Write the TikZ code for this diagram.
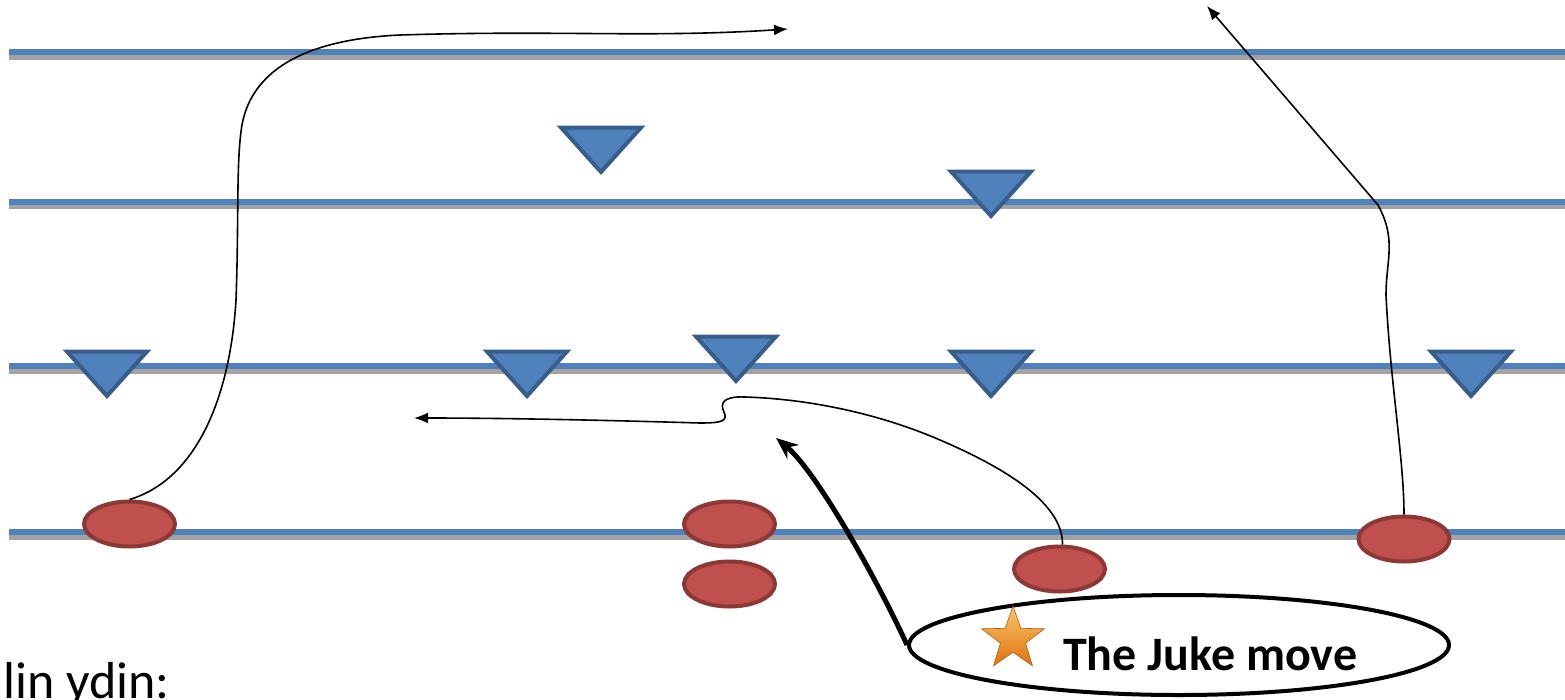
\documentclass[tikz,border=0pt]{standalone}
\usepackage{fontspec}
\setmainfont{Carlito}
\usetikzlibrary{shapes.geometric,arrows.meta}
\definecolor{fieldblue}{HTML}{4F81BD}
\definecolor{fieldgray}{HTML}{A3A3A3}
\definecolor{defedge}{HTML}{385D8A}
\definecolor{playerfill}{HTML}{C0504D}
\definecolor{playeredge}{HTML}{8C3836}
\definecolor{starlight}{HTML}{FCC466}
\definecolor{stardark}{HTML}{DD7414}
\begin{document}
\begin{tikzpicture}[x=1pt,y=-1pt,
  yardline/.style={line width=6, fieldblue},
  yardshadow/.style={line width=5, fieldgray},
  defender/.style={fill=fieldblue, draw=defedge, line width=4, line join=miter},
  player/.style={ellipse, fill=playerfill, draw=playeredge, line width=4,
    minimum width=91, minimum height=45, inner sep=0},
  callout/.style={ellipse, draw=black, line width=4, fill=white,
    minimum width=540, minimum height=100, inner sep=0},
  route/.style={line width=1.6, -{Latex[length=14,width=11]}},
  jukearrow/.style={line width=5, -{Stealth[length=22,width=18]}},
  badge/.style={star, star points=5, star point ratio=2.5, minimum size=66,
    inner sep=0, top color=starlight, bottom color=stardark, draw=stardark!80!black, line width=0.6}
]
\useasboundingbox (0,0) rectangle (1565,699);
\clip (0,0) rectangle (1565,699);

% yard lines: blue band with a grey band beneath
\foreach \y in {52,201.5,366,532}{
  \draw[yardshadow] (9,\y+5) -- (1565,\y+5);
  \draw[yardline] (9,\y) -- (1565,\y);
}

% defenders
\foreach \cx/\ty in {601/125, 991/169, 107/349, 527/349, 736/334, 991/349, 1471/349}{
  \draw[defender] (\cx-40,\ty+2.5) -- (\cx+40,\ty+2.5) -- (\cx,\ty+47) -- cycle;
}

% offensive players
\node[player] (e1) at (129.5,524) {};
\node[player] (e2) at (729.5,524) {};
\node[player] (e3) at (729.5,584) {};
\node[player] (e4) at (1059.5,569) {};
\node[player] (e5) at (1404,539) {};

% callout
\node[callout] (juke) at (1179,645) {};
\node[badge] (badge) at (1013,639) {};
\node[anchor=base west, inner sep=0, font=\bfseries\fontsize{48}{50}\selectfont] (label) at (1063,670) {The Juke move};

% caption
\node[anchor=base west, inner sep=0, font=\fontsize{52}{54}\selectfont] (caption) at (3,698) {lin ydin:};

% route end points
\coordinate (t1) at (788,29);
\coordinate (t2) at (414,418);
\coordinate (t3) at (776,438);
\coordinate (t4) at (1207,6);

% routes
\draw[route] (e1.north) .. controls (195,480) and (230,400) .. (236,300)
  .. controls (239,220) and (236,160) .. (242,125)
  .. controls (250,80) and (290,40) .. (400,35)
  .. controls (560,30) and (650,38) .. (t1);
\draw[route] ([xshift=3]e4.north) .. controls (1063,505) and (1010,470) .. (940,440)
  .. controls (880,414) and (810,399) .. (745,397)
  .. controls (722,396) and (720,404) .. (724,412)
  .. controls (728,421) and (722,423) .. (700,423)
  .. controls (600,420) and (500,418) .. (t2);
\draw[route] (e5.north) .. controls (1404,460) and (1390,380) .. (1386,295)
  .. controls (1386,260) and (1397,240) .. (1378,205) -- (t4);
\draw[jukearrow] (juke.west) .. controls (875,575) and (815,470) .. (t3);
\end{tikzpicture}
\end{document}
